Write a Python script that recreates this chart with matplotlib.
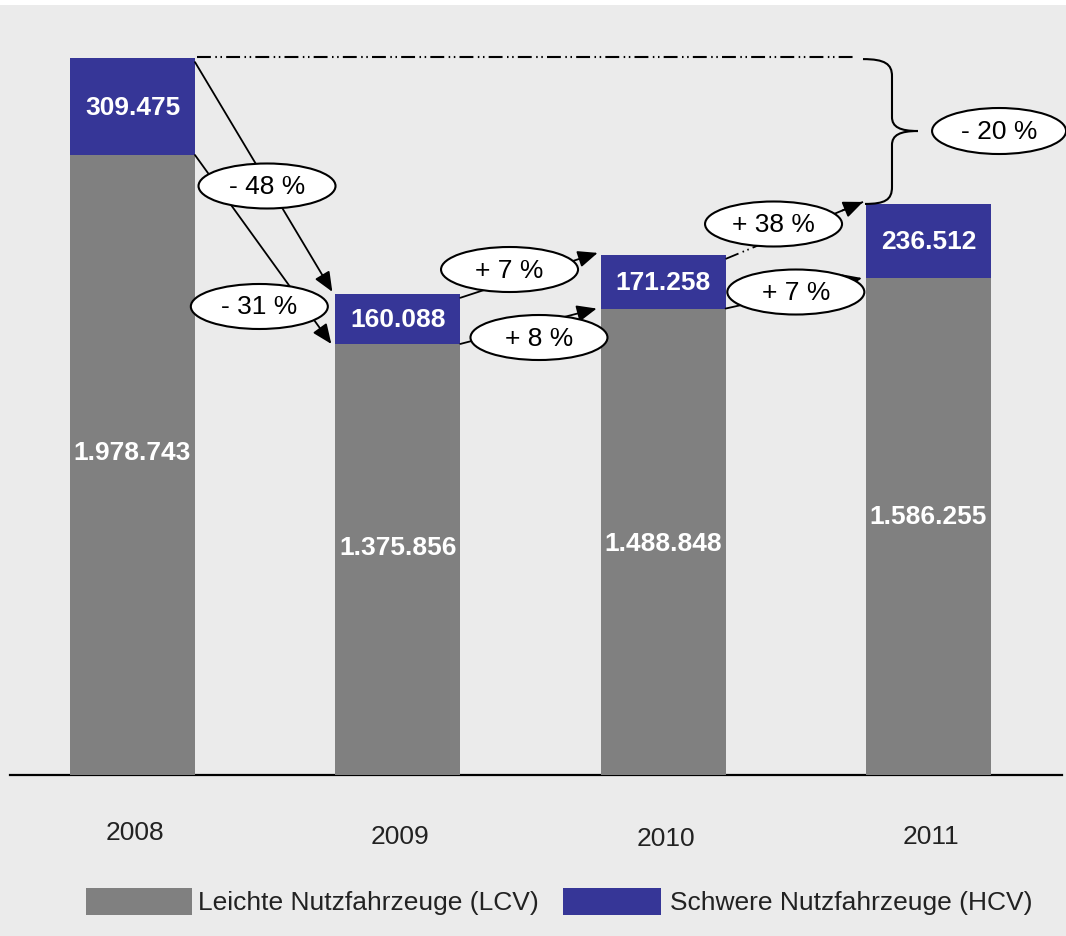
import matplotlib.pyplot as plt
from matplotlib.patches import Ellipse, Rectangle, PathPatch
from matplotlib.path import Path

# data
years = ["2008", "2009", "2010", "2011"]
lcv = [1978743, 1375856, 1488848, 1586255]   # Leichte Nutzfahrzeuge
hcv = [309475, 160088, 171258, 236512]       # Schwere Nutzfahrzeuge
# change labels as printed in the chart (hcv, lcv per step), and the total
changes = ["- 48 %", "- 31 %", "+ 7 %", "+ 8 %", "+ 38 %", "+ 7 %"]
total_change = "- 20 %"
legend_labels = ["Leichte Nutzfahrzeuge (LCV)", "Schwere Nutzfahrzeuge (HCV)"]

plt.rcParams['font.family'] = ['Liberation Sans', 'DejaVu Sans']
plt.rcParams['lines.scale_dashes'] = False

GRAY = '#808080'
BLUE = '#363697'
BG = '#ebebeb'
FS = 19
DASHDOT = (0, (10, 3.2, 1.1, 2.6, 1.1, 3.0))


def de(n):
    # german thousands separator
    return f"{n:,}".replace(",", ".")


# scale: one bar step = 265.33 px, 1 vehicle = 0.3133e-3 px
PX = 1 / 265.33
PY = 1 / 0.3133e-3
W = 125 * PX

fig = plt.figure(figsize=(10.66, 9.37), dpi=100, facecolor=BG)
fig.patches.append(Rectangle((0, 1 - 6 / 937), 1, 6 / 937, transform=fig.transFigure,
                             facecolor='white', edgecolor='none'))
ax = fig.add_axes([0, 0, 1, 1])
ax.patch.set_visible(False)
ax.set_axis_off()
ax.set_xlim(-132.5 * PX, (1066 - 132.5) * PX)
ax.set_ylim(-(937 - 776) * PY, 776 * PY)

x = list(range(len(years)))
tops = [a + b for a, b in zip(lcv, hcv)]

ax.axhline(0, xmin=10 / 1066, xmax=1062 / 1066, color='black', lw=1.6, zorder=1)
ax.bar(x, lcv, width=W, color=GRAY, zorder=2)
ax.bar(x, hcv, width=W, bottom=lcv, color=BLUE, zorder=2)

lcv_label_dy = [13, 12, -1, 11]   # px above segment centre
year_dy = [57, 61, 63, 61]        # px below baseline
for i in x:
    ax.text(i, lcv[i] / 2 + lcv_label_dy[i] * PY, de(lcv[i]), color='white', fontsize=FS,
            fontweight='bold', ha='center', va='center', zorder=3)
    ax.text(i, lcv[i] + hcv[i] / 2, de(hcv[i]), color='white', fontsize=FS,
            fontweight='bold', ha='center', va='center', zorder=3)
    ax.text(i + 0.01, -year_dy[i] * PY, years[i], fontsize=FS, ha='center', va='center',
            color='#222222')

LW = 1.3
arrow_kw = dict(arrowstyle='-|>,head_length=0.4,head_width=0.17', color='black',
                lw=LW, mutation_scale=30, shrinkA=0, shrinkB=0)

# ellipse centres for the change labels (hcv, lcv per step)
label_pos = [(0.507, 1880000), (0.478, 1495400),
             (1.421, 1613450), (1.532, 1396400),
             (2.416, 1758700), (2.500, 1541600)]

for i in range(len(years) - 1):
    j = i + 1
    # heavy vehicles (top of stack)
    s = (i + W / 2, tops[i] - 4 * PY)
    e = (j - W / 2 - 3 * PX, tops[j] + 2 * PY)
    if i == 2:
        ax.plot([s[0], e[0]], [s[1], e[1]], color='black', lw=LW, linestyle=DASHDOT, zorder=3)
        m = (s[0] + 0.85 * (e[0] - s[0]), s[1] + 0.85 * (e[1] - s[1]))
        ax.annotate("", xy=e, xytext=m, arrowprops=arrow_kw, zorder=3)
    else:
        ax.annotate("", xy=e, xytext=s, arrowprops=arrow_kw, zorder=3)
    # light vehicles
    s = (i + W / 2, lcv[i])
    e = (j - W / 2 - 4 * PX, lcv[j])
    ax.annotate("", xy=e, xytext=s, arrowprops=arrow_kw, zorder=3)

for (cx, cy), txt in zip(label_pos, changes):
    ax.add_patch(Ellipse((cx, cy), 137 * PX, 45 * PY, facecolor='white',
                         edgecolor='black', lw=1.5, zorder=4))
    ax.text(cx, cy, txt, fontsize=FS, ha='center', va='center', zorder=5)

# dash-dot line from 2008 top and brace down to 2011 top
bx = 3 - W / 2
ax.plot([W / 2 + 2 * PX, bx - 9 * PX], [tops[0] + 1 * PY] * 2, color='black', lw=1.5,
        linestyle=DASHDOT, zorder=3)

yt = tops[0] - 1 * PY
yb = tops[3]
ym = 2055500
x0, x1, x2 = bx - 3 * PX, bx + 26 * PX, bx + 52 * PX
r = 17 * PY
verts = [(x0, yt), (x1 - 7 * PX, yt), (x1, yt - 5 * PY), (x1, yt - r),
         (x1, ym + 14 * PY),
         (x1, ym + 4 * PY), (x1 + 8 * PX, ym), (x2, ym),
         (x1 + 8 * PX, ym), (x1, ym - 4 * PY), (x1, ym - 14 * PY),
         (x1, yb + r),
         (x1, yb + 4 * PY), (x1 - 7 * PX, yb), (x0 + 2 * PX, yb)]
codes = [Path.MOVETO, Path.CURVE4, Path.CURVE4, Path.CURVE4,
         Path.LINETO,
         Path.CURVE4, Path.CURVE4, Path.CURVE4,
         Path.CURVE4, Path.CURVE4, Path.CURVE4,
         Path.LINETO,
         Path.CURVE4, Path.CURVE4, Path.CURVE4]
ax.add_patch(PathPatch(Path(verts, codes), facecolor='none', edgecolor='black', lw=1.5, zorder=3))

ax.add_patch(Ellipse((3.266, ym), 134 * PX, 46 * PY, facecolor='white',
                     edgecolor='black', lw=1.5, zorder=4))
ax.text(3.266, ym, total_change, fontsize=FS, ha='center', va='center', zorder=5)

# legend
ax.add_patch(Rectangle((86 / 1066, 21 / 937), 106 / 1066, 27 / 937, transform=ax.transAxes,
                       facecolor=GRAY, edgecolor='none'))
ax.text(198 / 1066, 34 / 937, legend_labels[0], transform=ax.transAxes, fontsize=FS,
        va='center', color='#222222')
ax.add_patch(Rectangle((563 / 1066, 21 / 937), 98 / 1066, 27 / 937, transform=ax.transAxes,
                       facecolor=BLUE, edgecolor='none'))
ax.text(670 / 1066, 34 / 937, legend_labels[1], transform=ax.transAxes, fontsize=FS,
        va='center', color='#222222')

fig.savefig('out.png', dpi=100, facecolor=BG)
